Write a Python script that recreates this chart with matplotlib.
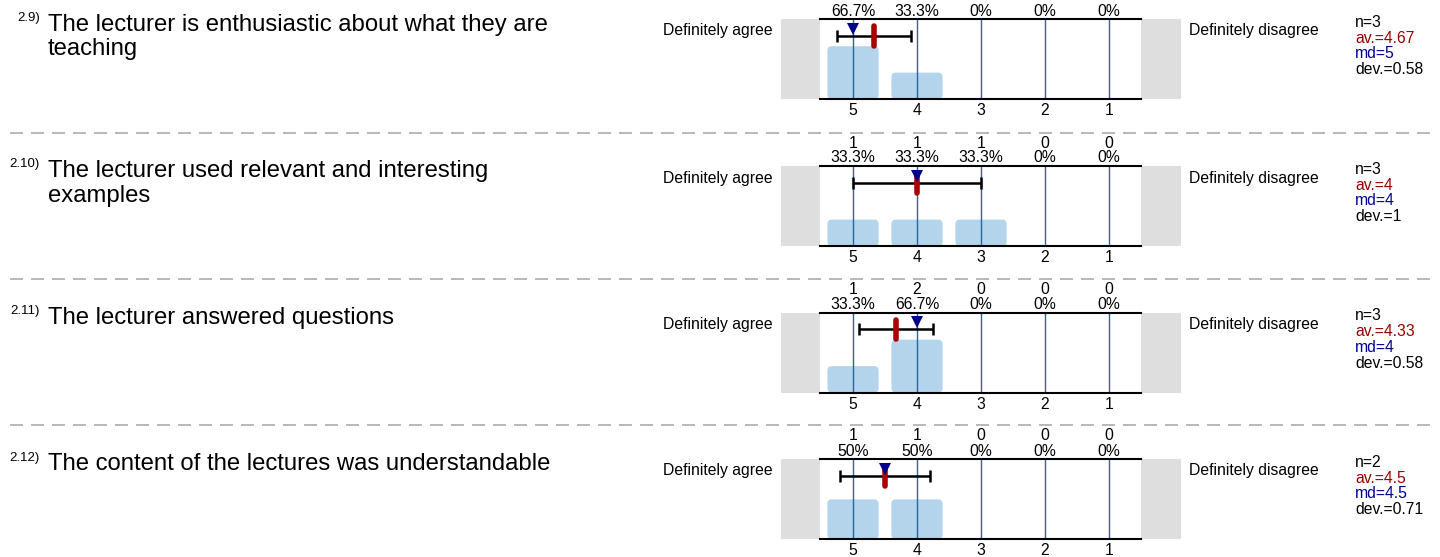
import matplotlib
matplotlib.use("Agg")
import matplotlib.pyplot as plt
from matplotlib.patches import FancyBboxPatch, Rectangle
from matplotlib.lines import Line2D

plt.rcParams['font.family'] = ['Liberation Sans', 'DejaVu Sans']

# ---- data ----
item_numbers = ["2.9)", "2.10)", "2.11)", "2.12)"]
questions = [
    "The lecturer is enthusiastic about what they are\nteaching",
    "The lecturer used relevant and interesting\nexamples",
    "The lecturer answered questions",
    "The content of the lectures was understandable",
]
scale = [5, 4, 3, 2, 1]
counts = [
    [2, 1, 0, 0, 0],
    [1, 1, 1, 0, 0],
    [1, 2, 0, 0, 0],
    [1, 1, 0, 0, 0],
]
n_vals = [3, 3, 3, 2]
av_vals = [4.67, 4, 4.33, 4.5]
md_vals = [5, 4, 4, 4.5]
dev_vals = [0.58, 1, 0.58, 0.71]
left_label = "Definitely agree"
right_label = "Definitely disagree"

# ---- layout (pixels) ----
W, H = 1440, 557
fig = plt.figure(figsize=(W / 100, H / 100), dpi=100)

def fx(x):
    return x / W

def fy(y):
    return 1 - y / H

row_tops = [19, 166, 312.5, 459]
sep_ys = [132.5, 278.5, 425]
ax_left, ax_w, ax_h = 820, 321, 80
FS = 11.3

BAR_C = '#b4d4ec'
VLINE_C = '#2d63a3'
RED_C = '#aa0000'
NAVY_C = '#00008b'
GRAY_C = '#dedede'

# dashed separators
for sy in sep_ys:
    fig.add_artist(Line2D([fx(10), fx(1430)], [fy(sy), fy(sy)], color='#ababab',
                          lw=1.2, linestyle=(0, (7.8, 4.8)), transform=fig.transFigure))

for i, top in enumerate(row_tops):
    n = n_vals[i]
    # gray side boxes
    fig.add_artist(Rectangle((fx(781), fy(top + ax_h)), fx(39), ax_h / H,
                             transform=fig.transFigure, color=GRAY_C, lw=0, zorder=0))
    fig.add_artist(Rectangle((fx(1141), fy(top + ax_h)), fx(40), ax_h / H,
                             transform=fig.transFigure, color=GRAY_C, lw=0, zorder=0))

    ax = fig.add_axes([fx(ax_left), fy(top + ax_h), fx(ax_w), ax_h / H])
    ax.set_xlim(5.516, 0.5)
    ax.set_ylim(0, 1.01)
    ax.patch.set_alpha(0)
    for s in ['left', 'right']:
        ax.spines[s].set_visible(False)
    for s in ['top', 'bottom']:
        ax.spines[s].set_linewidth(1.5)
    ax.set_yticks([])
    ax.set_xticks(scale)
    ax.set_xticklabels([str(v) for v in scale], fontsize=FS)
    ax.tick_params(axis='x', length=0, pad=3)

    fracs = [c / n for c in counts[i]]
    bars = ax.bar(scale, fracs, width=0.8)
    for b in bars:
        x0, y0 = b.get_x(), b.get_y()
        w, h = b.get_width(), b.get_height()
        b.remove()
        if h <= 0:
            continue
        p = FancyBboxPatch((x0, y0), w, h,
                           boxstyle="round,pad=0,rounding_size=0.07",
                           mutation_aspect=0.8, fc=BAR_C, ec='none', zorder=1)
        ax.add_patch(p)

    for v in scale:
        ax.plot([v, v], [0, 1.01], color=VLINE_C, lw=1.0, zorder=2)

    # error bar (mean +- dev)
    ax.errorbar(av_vals[i], 0.80, xerr=dev_vals[i], fmt='none', ecolor='black',
                elinewidth=1.8, capsize=4.5, capthick=1.8, zorder=3)
    # mean marker
    ax.plot([av_vals[i], av_vals[i]], [0.67, 0.92], color=RED_C, lw=4.0,
            solid_capstyle='round', zorder=4)
    # median marker
    ax.plot(md_vals[i], 0.885, marker='v', color=NAVY_C, markersize=9,
            markeredgewidth=0, zorder=5, clip_on=False)

    # counts & percentages above
    for v, c in zip(scale, counts[i]):
        pct = 100 * c / n
        ptxt = f"{pct:.1f}".rstrip('0').rstrip('.') + "%"
        ax.annotate(str(c), xy=(v, 1.01), xycoords='data', xytext=(0, 23),
                    textcoords='offset pixels', ha='center', va='center', fontsize=FS)
        ax.annotate(ptxt, xy=(v, 1.01), xycoords='data', xytext=(0, 8),
                    textcoords='offset pixels', ha='center', va='center', fontsize=FS)

    # side labels
    fig.text(fx(773), fy(top + 12), left_label, ha='right', va='center', fontsize=FS)
    fig.text(fx(1189), fy(top + 12), right_label, ha='left', va='center', fontsize=FS)

    # stats
    stats = [(f"n={n}", 'black'), (f"av.={av_vals[i]:g}", '#990000'),
             (f"md={md_vals[i]:g}", '#000099'), (f"dev.={dev_vals[i]:g}", 'black')]
    for k, (t, col) in enumerate(stats):
        fig.text(fx(1355), fy(top + 3.5 + 15.7 * k), t, ha='left', va='center',
                 fontsize=FS, color=col)

    # question
    fig.text(fx(40), fy(top - 1.5), item_numbers[i], ha='right', va='center', fontsize=9.5)
    for j, line in enumerate(questions[i].split('\n')):
        fig.text(fx(48), fy(top + 11.5 + 24.5 * j), line, ha='left', va='baseline',
                 fontsize=17.2)

fig.savefig("out.png", dpi=100)
